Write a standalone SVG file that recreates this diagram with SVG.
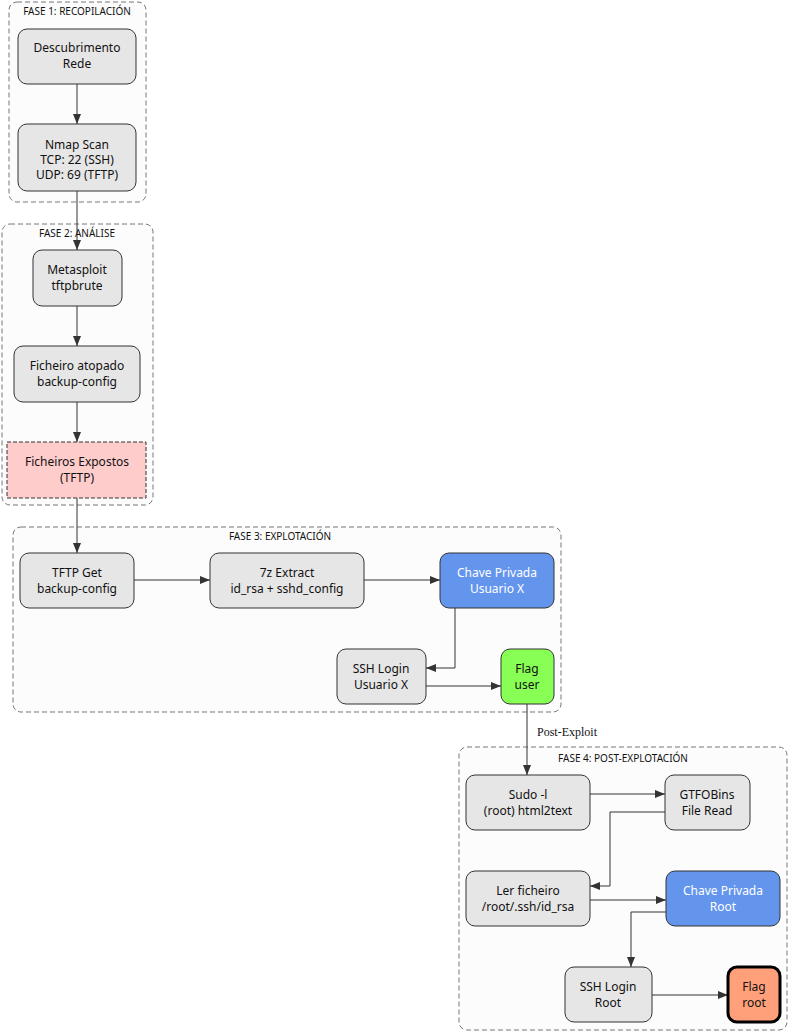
<svg xmlns="http://www.w3.org/2000/svg" width="788" height="1032" viewBox="0 0 788 1032">
<defs>
<marker id="ah" markerWidth="10" markerHeight="8" refX="10" refY="4" orient="auto" markerUnits="userSpaceOnUse"><path d="M0,0 L10,4 L0,8 z" fill="#333"/></marker>
<style>
.cl{fill:#fcfcfc;stroke:#777;stroke-dasharray:5,3;stroke-width:1}
.cll{font-family:"Noto Sans",sans-serif;font-size:10px;fill:#111;text-anchor:middle}
.n{fill:#e6e6e6;stroke:#333;stroke-width:1}
.t{font-family:"Noto Sans",sans-serif;font-size:12px;fill:#111;text-anchor:middle}
.w{fill:#fff}
.e{fill:none;stroke:#333;stroke-width:1;marker-end:url(#ah)}
</style>
</defs>
<rect width="788" height="1032" fill="#fff"/>
<g id="clusters">
<rect class="cl" x="9" y="2" width="137" height="200" rx="8"/><text class="cll" x="77" y="15">FASE 1: RECOPILACIÓN</text>
<rect class="cl" x="2" y="224" width="151" height="281" rx="8"/><text class="cll" x="77" y="237">FASE 2: ANÁLISE</text>
<rect class="cl" x="13" y="527" width="548" height="185" rx="8"/><text class="cll" x="280" y="540">FASE 3: EXPLOTACIÓN</text>
<rect class="cl" x="459" y="747" width="328" height="283" rx="8"/><text class="cll" x="623" y="762">FASE 4: POST-EXPLOTACIÓN</text>
</g>
<g id="connectors">
<path class="e" d="M77,84 V124"/>
<path class="e" d="M77,191 V250"/>
<path class="e" d="M77,306 V346"/>
<path class="e" d="M77,402 V442"/>
<path class="e" d="M77,498 V553"/>
<path class="e" d="M134,580 H210"/>
<path class="e" d="M364,580 H440"/>
<path class="e" d="M455,608 V668 H426"/>
<path class="e" d="M426,686 H501"/>
<path class="e" d="M527,704 V775"/>
<text x="537" y="736" font-family="Liberation Serif,serif" font-size="12" fill="#111">Post-Exploit</text>
<path class="e" d="M590,794 H665"/>
<path class="e" d="M665,812 H610 V886 H590"/>
<path class="e" d="M590,900 H666"/>
<path class="e" d="M666,912 H631 V967"/>
<path class="e" d="M652,995 H728"/>
</g>
<g id="n1"><rect class="n" x="18" y="29" width="118" height="55" rx="9"/><text class="t" x="77" y="52">Descubrimento</text><text class="t" x="77" y="68">Rede</text></g>
<g id="n2"><rect class="n" x="18" y="124" width="118" height="67" rx="9"/><text class="t" x="77" y="149">Nmap Scan</text><text class="t" x="77" y="164">TCP: 22 (SSH)</text><text class="t" x="77" y="179">UDP: 69 (TFTP)</text></g>
<g id="n3"><rect class="n" x="33" y="250" width="89" height="56" rx="9"/><text class="t" x="77" y="274">Metasploit</text><text class="t" x="77" y="290">tftpbrute</text></g>
<g id="n4"><rect class="n" x="14" y="346" width="126" height="56" rx="9"/><text class="t" x="77" y="370">Ficheiro atopado</text><text class="t" x="77" y="386">backup-config</text></g>
<g id="n5"><rect x="7" y="442" width="139" height="56" fill="#ffcccc" stroke="#333" stroke-dasharray="4,2"/><text class="t" x="77" y="466">Ficheiros Expostos</text><text class="t" x="77" y="482">(TFTP)</text></g>
<g id="n6"><rect class="n" x="20" y="553" width="114" height="55" rx="9"/><text class="t" x="77" y="577">TFTP Get</text><text class="t" x="77" y="593">backup-config</text></g>
<g id="n7"><rect class="n" x="210" y="553" width="154" height="55" rx="9"/><text class="t" x="287" y="577">7z Extract</text><text class="t" x="287" y="593">id_rsa + sshd_config</text></g>
<g id="n8"><rect x="440" y="553" width="114" height="55" rx="9" fill="#6495ed" stroke="#333"/><text class="t w" x="497" y="577">Chave Privada</text><text class="t w" x="497" y="593">Usuario X</text></g>
<g id="n9"><rect class="n" x="337" y="649" width="89" height="55" rx="9"/><text class="t" x="381" y="673">SSH Login</text><text class="t" x="381" y="689">Usuario X</text></g>
<g id="n10"><rect x="501" y="649" width="53" height="55" rx="9" fill="#88ff55" stroke="#333"/><text class="t" x="527" y="673">Flag</text><text class="t" x="527" y="689">user</text></g>
<g id="n11"><rect class="n" x="466" y="775" width="124" height="55" rx="9"/><text class="t" x="528" y="799">Sudo -l</text><text class="t" x="528" y="815">(root) html2text</text></g>
<g id="n12"><rect class="n" x="665" y="775" width="85" height="55" rx="9"/><text class="t" x="707" y="799">GTFOBins</text><text class="t" x="707" y="815">File Read</text></g>
<g id="n13"><rect class="n" x="466" y="871" width="124" height="55" rx="9"/><text class="t" x="528" y="895">Ler ficheiro</text><text class="t" x="528" y="911">/root/.ssh/id_rsa</text></g>
<g id="n14"><rect x="666" y="871" width="114" height="55" rx="9" fill="#6495ed" stroke="#333"/><text class="t w" x="723" y="895">Chave Privada</text><text class="t w" x="723" y="911">Root</text></g>
<g id="n15"><rect class="n" x="565" y="967" width="87" height="55" rx="9"/><text class="t" x="608" y="991">SSH Login</text><text class="t" x="608" y="1007">Root</text></g>
<g id="n16"><rect x="728" y="967" width="52" height="55" rx="9" fill="#ffa07a" stroke="#000" stroke-width="3"/><text class="t" x="754" y="991">Flag</text><text class="t" x="754" y="1007">root</text></g>
</svg>
